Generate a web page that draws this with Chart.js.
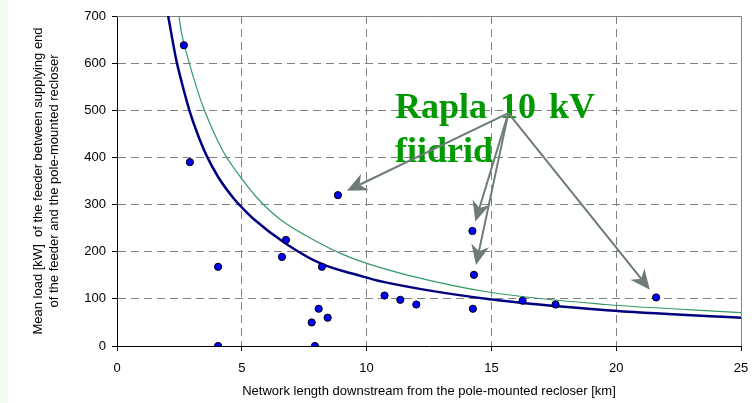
<!DOCTYPE html>
<html>
<head>
<meta charset="utf-8">
<script src="https://cdn.jsdelivr.net/npm/chart.js@4.4.0/dist/chart.umd.min.js"></script>
<style>
html,body{margin:0;padding:0;background:#fff;}
#wrap{width:752px;height:403px;position:relative;}
</style>
</head>
<body>
<div id="wrap"><canvas id="c" width="752" height="403"></canvas></div>
<script>
// ---- data ----
const feederLengthKm = [2.68, 2.92, 4.05, 4.05, 6.61, 6.77, 8.21, 8.08, 7.80, 8.44, 7.93, 8.85, 10.72, 11.35, 11.99, 14.24, 14.30, 14.26, 16.25, 17.57, 21.60];
const feederLoadKw   = [638,  390,  168,  0,    189,  225,  168,  79,   50,   60,   0,    320,  107,   98,    88,    244,   151,   79,    96,    88,    103];

const lowerCurveKm = [2.05, 2.37, 2.59, 2.90, 3.19, 3.57, 4.06, 4.66, 5.00, 5.46, 6.80, 8.20, 9.74, 10.67, 14.94, 19.62, 25.0];
const lowerCurveKw = [700,  608,  560,  500,  455,  406,  358,  314,  294,  270,  216,  174,  149,  136,   99,    76,    60];

const upperCurveKm = [2.48, 2.59, 2.79, 3.19, 3.46, 4.26, 5.00, 5.60, 6.53, 8.13, 8.93, 9.74, 11.60, 14.94, 19.60, 25.0];
const upperCurveKw = [700,  663,  620,  548,  506,  412,  355,  315,  269,  218,  197,  180,  151,   114,   88,    71];

const xTickValues = [0, 5, 10, 15, 20, 25];
const yTickValues = [0, 100, 200, 300, 400, 500, 600, 700];

const annotationText = ['Rapla 10 kV', 'fiidrid'];
const arrowTargets = [11, 15, 16, 20]; // indices of the pointed feeders

const xTitle = 'Network length downstream from the pole-mounted recloser [km]';
const yTitle = ['Mean load [kW]  of the feeder between supplying end', 'of the feeder and the pole-mounted recloser'];

// ---- annotation placement (data coordinates) ----
const annot = { textX: 11.14, textY: 484, lineGapPx: 44, fromX: 15.68, fromY: 494, tipGapPx: 10 };

const toXY = (xs, ys) => xs.map((x, i) => ({x, y: ys[i]}));

const decor = {
  id: 'decor',
  beforeDraw(chart) {
    const {ctx, width, height} = chart;
    ctx.save();
    ctx.fillStyle = '#ffffff';
    ctx.fillRect(0, 0, width, height);
    ctx.fillStyle = '#f1fdf1';
    ctx.fillRect(0, 0, 8, height);
    ctx.restore();
  },
  beforeDatasetsDraw(chart) {
    const {ctx, chartArea: a} = chart;
    ctx.save();
    ctx.strokeStyle = '#808080';
    ctx.lineWidth = 1;
    ctx.beginPath();
    ctx.moveTo(a.left, Math.round(a.top) + 0.5);
    ctx.lineTo(Math.round(a.right) + 0.5, Math.round(a.top) + 0.5);
    ctx.lineTo(Math.round(a.right) + 0.5, a.bottom);
    ctx.stroke();
    ctx.restore();
  },
  afterDatasetsDraw(chart) {
    const {ctx, scales: {x, y}} = chart;
    ctx.save();
    // text
    ctx.fillStyle = '#009900';
    ctx.font = 'bold 36px "Liberation Serif", "Times New Roman", serif';
    ctx.textBaseline = 'alphabetic';
    ctx.textAlign = 'left';
    try { ctx.wordSpacing = '4px'; } catch (e) {}
    const tx = x.getPixelForValue(annot.textX);
    const ty = y.getPixelForValue(annot.textY);
    annotationText.forEach((t, i) => ctx.fillText(t, tx, ty + i * annot.lineGapPx));
    // arrows
    const ox = x.getPixelForValue(annot.fromX);
    const oy = y.getPixelForValue(annot.fromY);
    ctx.strokeStyle = '#6e7c78';
    ctx.fillStyle = '#6e7c78';
    ctx.lineWidth = 2;
    arrowTargets.forEach(idx => {
      const px = x.getPixelForValue(feederLengthKm[idx]);
      const py = y.getPixelForValue(feederLoadKw[idx]);
      const dx = px - ox, dy = py - oy;
      const len = Math.hypot(dx, dy);
      const ux = dx / len, uy = dy / len;
      const tipX = px - ux * annot.tipGapPx, tipY = py - uy * annot.tipGapPx;
      const headLen = 20, headW = 9;
      const bx = tipX - ux * headLen, by = tipY - uy * headLen;
      const nx = tipX - ux * headLen * 0.7, ny = tipY - uy * headLen * 0.7;
      ctx.beginPath();
      ctx.moveTo(ox, oy);
      ctx.lineTo(nx, ny);
      ctx.stroke();
      ctx.beginPath();
      ctx.moveTo(tipX, tipY);
      ctx.lineTo(bx - uy * headW, by + ux * headW);
      ctx.lineTo(nx, ny);
      ctx.lineTo(bx + uy * headW, by - ux * headW);
      ctx.closePath();
      ctx.fill();
    });
    ctx.restore();
  }
};

const tickFont = {family: '"Liberation Sans", Arial, sans-serif', size: 13};

new Chart(document.getElementById('c'), {
  type: 'scatter',
  data: {
    datasets: [
      {
        label: 'Feeders',
        data: toXY(feederLengthKm, feederLoadKw),
        backgroundColor: '#0000ff',
        borderColor: '#000000',
        borderWidth: 1,
        pointRadius: 3.6,
        showLine: false
      },
      {
        label: 'Lower curve',
        data: toXY(lowerCurveKm, lowerCurveKw),
        showLine: true,
        borderColor: '#000080',
        borderWidth: 2.5,
        pointRadius: 0,
        cubicInterpolationMode: 'monotone',
        fill: false
      },
      {
        label: 'Upper curve',
        data: toXY(upperCurveKm, upperCurveKw),
        showLine: true,
        borderColor: '#339966',
        borderWidth: 1.2,
        pointRadius: 0,
        cubicInterpolationMode: 'monotone',
        fill: false
      }
    ]
  },
  options: {
    responsive: false,
    animation: false,
    devicePixelRatio: 1,
    layout: {padding: {top: 16, right: 11, left: 0, bottom: 0}},
    plugins: {legend: {display: false}, tooltip: {enabled: false}},
    scales: {
      x: {
        type: 'linear',
        min: 0, max: 25,
        afterBuildTicks: s => { s.ticks = xTickValues.map(v => ({value: v})); },
        afterFit: s => { s.height = 57; s.paddingLeft = 0; s.paddingRight = 0; },
        ticks: {color: '#000', font: tickFont, padding: 10, maxRotation: 0},
        grid: {
          color: c => (c.tick && (c.tick.value === 0 || c.tick.value === 25)) ? 'rgba(0,0,0,0)' : '#808080',
          tickColor: '#000', tickLength: 5, tickBorderDash: [], lineWidth: 1
        },
        border: {display: true, color: '#000', width: 1, dash: [8, 5]},
        title: {display: true, text: xTitle, color: '#000', font: tickFont, padding: {top: 0, bottom: 4}}
      },
      y: {
        type: 'linear',
        min: 0, max: 700,
        afterBuildTicks: s => { s.ticks = yTickValues.map(v => ({value: v})); },
        afterFit: s => { s.width = 117; s.paddingTop = 0; s.paddingBottom = 0; },
        ticks: {color: '#000', font: tickFont, padding: 6},
        grid: {
          color: c => (c.tick && (c.tick.value === 0 || c.tick.value === 700)) ? 'rgba(0,0,0,0)' : '#808080',
          tickColor: '#000', tickLength: 5, tickBorderDash: [], lineWidth: 1
        },
        border: {display: true, color: '#000', width: 1, dash: [8, 5]},
        title: {display: true, text: yTitle, color: '#000', font: {family: tickFont.family, size: 13, lineHeight: 1.3}, padding: {top: 29.5, bottom: 0}}
      }
    }
  },
  plugins: [decor]
});
</script>
</body>
</html>
